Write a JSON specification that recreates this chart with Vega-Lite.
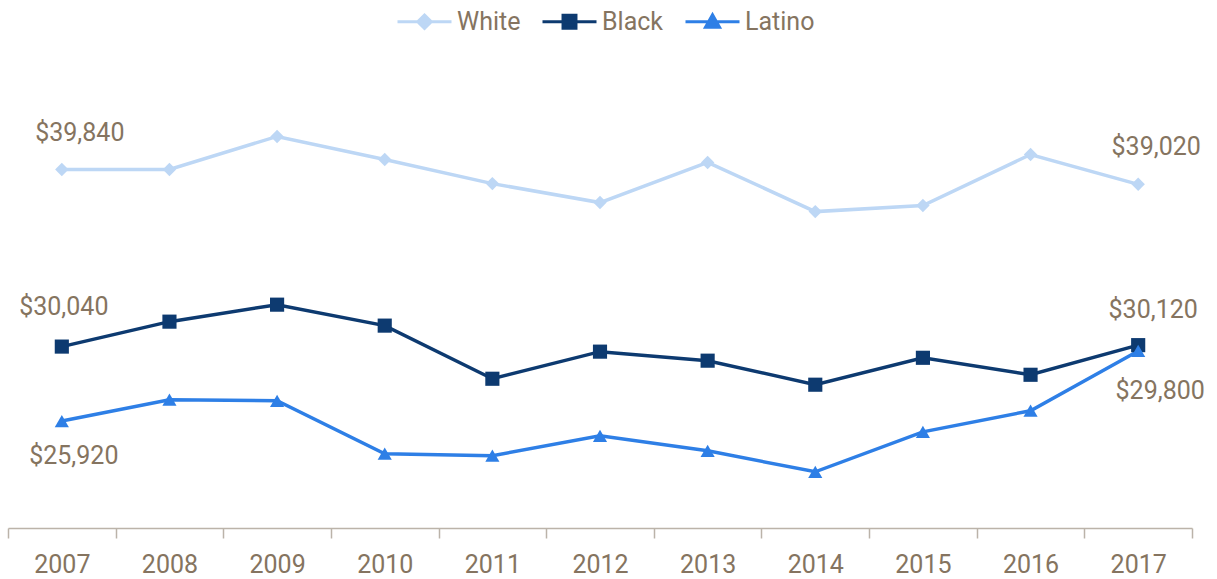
{
  "$schema": "https://vega.github.io/schema/vega-lite/v6.json",
  "width": 1184,
  "height": 524,
  "padding": {"left": 8, "top": 4, "right": 25, "bottom": 51},
  "autosize": {"type": "none"},
  "config": {
    "view": {"stroke": null},
    "font": "Roboto",
    "text": {"font": "Roboto", "fontSize": 25, "color": "#857460"}
  },
  "data": {
    "values": [
      {"year": "2007", "race": "White", "value": 39840},
      {"year": "2008", "race": "White", "value": 39840},
      {"year": "2009", "race": "White", "value": 41670},
      {"year": "2010", "race": "White", "value": 40390},
      {"year": "2011", "race": "White", "value": 39060},
      {"year": "2012", "race": "White", "value": 38010},
      {"year": "2013", "race": "White", "value": 40230},
      {"year": "2014", "race": "White", "value": 37510},
      {"year": "2015", "race": "White", "value": 37850},
      {"year": "2016", "race": "White", "value": 40670},
      {"year": "2017", "race": "White", "value": 39020},
      {"year": "2007", "race": "Black", "value": 30040},
      {"year": "2008", "race": "Black", "value": 31420},
      {"year": "2009", "race": "Black", "value": 32360},
      {"year": "2010", "race": "Black", "value": 31200},
      {"year": "2011", "race": "Black", "value": 28260},
      {"year": "2012", "race": "Black", "value": 29760},
      {"year": "2013", "race": "Black", "value": 29260},
      {"year": "2014", "race": "Black", "value": 27930},
      {"year": "2015", "race": "Black", "value": 29420},
      {"year": "2016", "race": "Black", "value": 28480},
      {"year": "2017", "race": "Black", "value": 30120},
      {"year": "2007", "race": "Latino", "value": 25920},
      {"year": "2008", "race": "Latino", "value": 27100},
      {"year": "2009", "race": "Latino", "value": 27040},
      {"year": "2010", "race": "Latino", "value": 24110},
      {"year": "2011", "race": "Latino", "value": 24000},
      {"year": "2012", "race": "Latino", "value": 25100},
      {"year": "2013", "race": "Latino", "value": 24270},
      {"year": "2014", "race": "Latino", "value": 23110},
      {"year": "2015", "race": "Latino", "value": 25320},
      {"year": "2016", "race": "Latino", "value": 26490},
      {"year": "2017", "race": "Latino", "value": 29800}
    ]
  },
  "encoding": {
    "x": {
      "field": "year", "type": "ordinal",
      "scale": {"paddingInner": 0, "paddingOuter": 0},
      "axis": {
        "title": null, "labelAngle": 0, "tickBand": "extent",
        "domainColor": "#bbb3a9", "domainWidth": 1.5,
        "tickColor": "#bbb3a9", "tickWidth": 1.5, "tickSize": 10,
        "labelFont": "Roboto", "labelFontSize": 25, "labelColor": "#857460",
        "labelPadding": 14
      }
    },
    "y": {
      "field": "value", "type": "quantitative",
      "scale": {"domain": [20000, 49000], "nice": false, "zero": false},
      "axis": null
    },
    "color": {
      "field": "race", "type": "nominal",
      "scale": {"domain": ["White", "Black", "Latino"], "range": ["#bdd7f5", "#0d3a70", "#2e7fe6"]},
      "legend": {
        "title": null, "orient": "none", "direction": "horizontal",
        "legendX": 388, "legendY": -11,
        "labelFont": "Roboto", "labelFontSize": 25, "labelColor": "#857460",
        "symbolSize": 2916, "symbolStrokeWidth": 3, "columnPadding": 15, "labelOffset": 4,
        "encode": {
          "symbols": {
            "update": {
              "shape": {"signal": "datum.value == 'White' ? 'M-1,0H1M0,-0.25L0.25,0L0,0.25L-0.25,0Z' : datum.value == 'Black' ? 'M-1,0H1M-0.24,-0.24H0.24V0.24H-0.24Z' : 'M-1,0H1M0,-0.26L0.26,0.2H-0.26Z'"},
              "fill": {"scale": "color", "field": "value"},
              "stroke": {"scale": "color", "field": "value"},
              "strokeWidth": {"value": 3}
            }
          }
        }
      }
    }
  },
  "layer": [
    {
      "mark": {"type": "line", "strokeWidth": 3.5}
    },
    {
      "transform": [{"filter": "datum.race == 'White'"}],
      "mark": {"type": "point", "filled": true, "opacity": 1, "shape": "diamond", "size": 180}
    },
    {
      "transform": [{"filter": "datum.race == 'Black'"}],
      "mark": {"type": "point", "filled": true, "opacity": 1, "shape": "square", "size": 200}
    },
    {
      "transform": [{"filter": "datum.race == 'Latino'"}],
      "mark": {"type": "point", "filled": true, "opacity": 1, "shape": "triangle-up", "size": 200}
    },
    {
      "transform": [{"filter": "datum.race == 'White' && (datum.year == '2007' || datum.year == '2017')"}],
      "mark": {"type": "text", "dx": 18, "dy": -37},
      "encoding": {"color": {"value": "#857460"}, "text": {"field": "value", "type": "quantitative", "format": "$,"}}
    },
    {
      "transform": [{"filter": "datum.race == 'Black' && datum.year == '2007'"}],
      "mark": {"type": "text", "dx": 2, "dy": -40},
      "encoding": {"color": {"value": "#857460"}, "text": {"field": "value", "type": "quantitative", "format": "$,"}}
    },
    {
      "transform": [{"filter": "datum.race == 'Black' && datum.year == '2017'"}],
      "mark": {"type": "text", "dx": 15, "dy": -35},
      "encoding": {"color": {"value": "#857460"}, "text": {"field": "value", "type": "quantitative", "format": "$,"}}
    },
    {
      "transform": [{"filter": "datum.race == 'Latino' && datum.year == '2007'"}],
      "mark": {"type": "text", "dx": 12, "dy": 35},
      "encoding": {"color": {"value": "#857460"}, "text": {"field": "value", "type": "quantitative", "format": "$,"}}
    },
    {
      "transform": [{"filter": "datum.race == 'Latino' && datum.year == '2017'"}],
      "mark": {"type": "text", "dx": 22, "dy": 40},
      "encoding": {"color": {"value": "#857460"}, "text": {"field": "value", "type": "quantitative", "format": "$,"}}
    }
  ]
}
